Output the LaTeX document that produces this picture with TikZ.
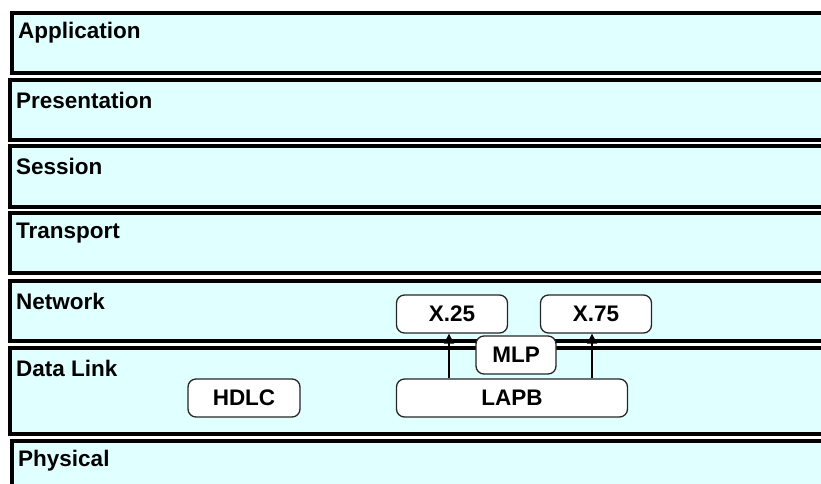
\documentclass[tikz,border=0pt]{standalone}
\usepackage{fontspec}
\setmainfont{Liberation Sans}
\usetikzlibrary{arrows.meta}

\definecolor{layerfill}{HTML}{E0FFFF}

\tikzset{
	layer/.style={draw=black,line width=3.5pt,fill=layerfill},
	layername/.style={anchor=west,inner sep=0pt,font=\fontsize{22.5}{26}\selectfont\bfseries},
	proto/.style={draw=black!85,line width=1.3pt,fill=white,rounded corners=8pt,
		inner sep=0pt,font=\fontsize{22.5}{26}\selectfont\bfseries},
	arr/.style={line width=1.5pt,-{Triangle[width=10pt,length=10pt]}}
}

\begin{document}
\begin{tikzpicture}[x=1pt,y=-1pt]
\clip (0,0) rectangle (821,483);

% the seven OSI layers
\foreach \l/\t/\b/\n/\txt in {12/13/73/app/Application,
	10/80/140/pres/Presentation,
	10/146/207/sess/Session,
	10/213/273/trans/Transport,
	10/281/341/net/Network,
	10/348/434/dl/Data Link,
	12/441/520/phy/Physical}
	{\draw[layer] (\l,\t) rectangle (840,\b);
	\node[layername] (\n) at (\l+6,\t+20) {\txt};}

% protocols
\node[proto,minimum width=112pt,minimum height=38pt] (hdlc) at (244,398) {HDLC};
\node[proto,minimum width=231pt,minimum height=38pt] (lapb) at (512,398) {LAPB};
\node[proto,minimum width=111pt,minimum height=38pt] (x25) at (452,314) {X.25};
\node[proto,minimum width=111pt,minimum height=38pt] (x75) at (596,314) {X.75};

\draw[arr] ([xshift=-3pt]x25.south |- lapb.north) -- ([xshift=-3pt]x25.south);
\draw[arr] ([xshift=-4pt]x75.south |- lapb.north) -- ([xshift=-4pt]x75.south);

\node[proto,minimum width=80pt,minimum height=38pt] (mlp) at (516,355) {MLP};
\end{tikzpicture}
\end{document}
